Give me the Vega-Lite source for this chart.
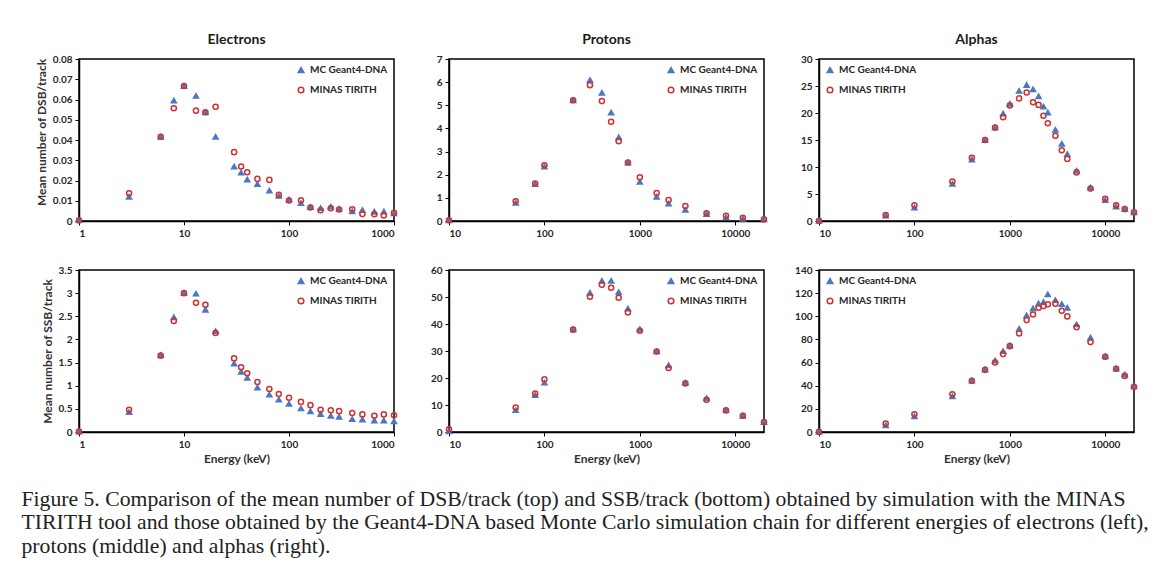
{
  "$schema": "https://vega.github.io/schema/vega-lite/v6.json",
  "background": "white",
  "padding": {"left": 21, "top": 32, "right": 8, "bottom": 10},
  "config": {
    "font": "Lato",
    "view": {"stroke": "black", "strokeWidth": 1.5},
    "axis": {
      "grid": false,
      "domainColor": "black",
      "domainWidth": 1.5,
      "tickColor": "black",
      "tickSize": 4,
      "labelFont": "Lato",
      "labelFontWeight": "bold",
      "labelFontSize": 10,
      "labelColor": "#262626",
      "labelPadding": 3,
      "titleFont": "Lato",
      "titleFontWeight": "bold",
      "titleFontSize": 12,
      "titleColor": "#333333"
    },
    "legend": {
      "title": null,
      "labelFont": "Lato",
      "labelFontSize": 10,
      "labelFontWeight": "bold",
      "labelColor": "#262626",
      "symbolStrokeWidth": 1.5,
      "symbolSize": 32,
      "rowPadding": 8,
      "offset": 6,
      "padding": 0
    },
    "title": {"font": "Lato", "fontSize": 14, "fontWeight": "bold", "color": "#1a1a1a", "offset": 7},
    "point": {"opacity": 1}
  },
  "title": {
    "text": [
      "Figure 5. Comparison of the mean number of DSB/track (top) and SSB/track (bottom) obtained by simulation with the MINAS",
      "TIRITH tool and those obtained by the Geant4-DNA based Monte Carlo simulation chain for different energies of electrons (left),",
      "protons (middle) and alphas (right)."
    ],
    "orient": "bottom",
    "anchor": "start",
    "font": "Liberation Serif",
    "fontSize": 21.7,
    "fontWeight": "normal",
    "color": "#222222",
    "lineHeight": 23.5,
    "offset": 24,
    "dx": -13
  },
  "datasets": {
    "e_dsb": [
      {"E": 1, "MC Geant4-DNA": 0.0004, "MINAS TIRITH": 0.0004},
      {"E": 3, "MC Geant4-DNA": 0.012, "MINAS TIRITH": 0.0137},
      {"E": 6, "MC Geant4-DNA": 0.0416, "MINAS TIRITH": 0.0416},
      {"E": 8, "MC Geant4-DNA": 0.0595, "MINAS TIRITH": 0.0557},
      {"E": 10, "MC Geant4-DNA": 0.0667, "MINAS TIRITH": 0.0667},
      {"E": 13, "MC Geant4-DNA": 0.0618, "MINAS TIRITH": 0.0545},
      {"E": 16, "MC Geant4-DNA": 0.0537, "MINAS TIRITH": 0.0537},
      {"E": 20, "MC Geant4-DNA": 0.0416, "MINAS TIRITH": 0.0564},
      {"E": 30, "MC Geant4-DNA": 0.0269, "MINAS TIRITH": 0.034},
      {"E": 35, "MC Geant4-DNA": 0.0239, "MINAS TIRITH": 0.0269},
      {"E": 40, "MC Geant4-DNA": 0.0205, "MINAS TIRITH": 0.0241},
      {"E": 50, "MC Geant4-DNA": 0.0182, "MINAS TIRITH": 0.0208},
      {"E": 65, "MC Geant4-DNA": 0.015, "MINAS TIRITH": 0.0203},
      {"E": 80, "MC Geant4-DNA": 0.0124, "MINAS TIRITH": 0.0129},
      {"E": 100, "MC Geant4-DNA": 0.0106, "MINAS TIRITH": 0.0101},
      {"E": 130, "MC Geant4-DNA": 0.0089, "MINAS TIRITH": 0.0102},
      {"E": 160, "MC Geant4-DNA": 0.0069, "MINAS TIRITH": 0.0067},
      {"E": 200, "MC Geant4-DNA": 0.0064, "MINAS TIRITH": 0.0053},
      {"E": 250, "MC Geant4-DNA": 0.0071, "MINAS TIRITH": 0.0063},
      {"E": 300, "MC Geant4-DNA": 0.006, "MINAS TIRITH": 0.0057},
      {"E": 400, "MC Geant4-DNA": 0.0048, "MINAS TIRITH": 0.0058},
      {"E": 500, "MC Geant4-DNA": 0.0054, "MINAS TIRITH": 0.0034},
      {"E": 650, "MC Geant4-DNA": 0.0046, "MINAS TIRITH": 0.0033},
      {"E": 800, "MC Geant4-DNA": 0.0047, "MINAS TIRITH": 0.0027},
      {"E": 1000, "MC Geant4-DNA": 0.0038, "MINAS TIRITH": 0.004}
    ],
    "e_ssb": [
      {"E": 1, "MC Geant4-DNA": 0.01, "MINAS TIRITH": 0.01},
      {"E": 3, "MC Geant4-DNA": 0.43, "MINAS TIRITH": 0.48},
      {"E": 6, "MC Geant4-DNA": 1.66, "MINAS TIRITH": 1.65},
      {"E": 8, "MC Geant4-DNA": 2.48, "MINAS TIRITH": 2.4},
      {"E": 10, "MC Geant4-DNA": 3.0, "MINAS TIRITH": 3.0},
      {"E": 13, "MC Geant4-DNA": 2.99, "MINAS TIRITH": 2.79},
      {"E": 16, "MC Geant4-DNA": 2.64, "MINAS TIRITH": 2.75},
      {"E": 20, "MC Geant4-DNA": 2.18, "MINAS TIRITH": 2.14},
      {"E": 30, "MC Geant4-DNA": 1.48, "MINAS TIRITH": 1.59},
      {"E": 35, "MC Geant4-DNA": 1.3, "MINAS TIRITH": 1.4},
      {"E": 40, "MC Geant4-DNA": 1.17, "MINAS TIRITH": 1.27},
      {"E": 50, "MC Geant4-DNA": 0.96, "MINAS TIRITH": 1.08},
      {"E": 65, "MC Geant4-DNA": 0.81, "MINAS TIRITH": 0.93},
      {"E": 80, "MC Geant4-DNA": 0.7, "MINAS TIRITH": 0.82},
      {"E": 100, "MC Geant4-DNA": 0.61, "MINAS TIRITH": 0.74},
      {"E": 130, "MC Geant4-DNA": 0.51, "MINAS TIRITH": 0.65},
      {"E": 160, "MC Geant4-DNA": 0.45, "MINAS TIRITH": 0.58},
      {"E": 200, "MC Geant4-DNA": 0.39, "MINAS TIRITH": 0.48},
      {"E": 250, "MC Geant4-DNA": 0.35, "MINAS TIRITH": 0.47},
      {"E": 300, "MC Geant4-DNA": 0.33, "MINAS TIRITH": 0.45},
      {"E": 400, "MC Geant4-DNA": 0.28, "MINAS TIRITH": 0.41},
      {"E": 500, "MC Geant4-DNA": 0.27, "MINAS TIRITH": 0.38},
      {"E": 650, "MC Geant4-DNA": 0.25, "MINAS TIRITH": 0.35},
      {"E": 800, "MC Geant4-DNA": 0.25, "MINAS TIRITH": 0.38},
      {"E": 1000, "MC Geant4-DNA": 0.23, "MINAS TIRITH": 0.36}
    ],
    "p_dsb": [
      {"E": 10, "MC Geant4-DNA": 0.03, "MINAS TIRITH": 0.03},
      {"E": 50, "MC Geant4-DNA": 0.79, "MINAS TIRITH": 0.85},
      {"E": 80, "MC Geant4-DNA": 1.6, "MINAS TIRITH": 1.62},
      {"E": 100, "MC Geant4-DNA": 2.35, "MINAS TIRITH": 2.41},
      {"E": 200, "MC Geant4-DNA": 5.22, "MINAS TIRITH": 5.22},
      {"E": 300, "MC Geant4-DNA": 6.09, "MINAS TIRITH": 5.87},
      {"E": 400, "MC Geant4-DNA": 5.54, "MINAS TIRITH": 5.18},
      {"E": 500, "MC Geant4-DNA": 4.69, "MINAS TIRITH": 4.29},
      {"E": 600, "MC Geant4-DNA": 3.62, "MINAS TIRITH": 3.45},
      {"E": 750, "MC Geant4-DNA": 2.53, "MINAS TIRITH": 2.53},
      {"E": 1000, "MC Geant4-DNA": 1.69, "MINAS TIRITH": 1.89},
      {"E": 1500, "MC Geant4-DNA": 1.05, "MINAS TIRITH": 1.21},
      {"E": 2000, "MC Geant4-DNA": 0.75, "MINAS TIRITH": 0.91},
      {"E": 3000, "MC Geant4-DNA": 0.48, "MINAS TIRITH": 0.65},
      {"E": 5000, "MC Geant4-DNA": 0.3, "MINAS TIRITH": 0.33},
      {"E": 8000, "MC Geant4-DNA": 0.16, "MINAS TIRITH": 0.23},
      {"E": 12000, "MC Geant4-DNA": 0.1, "MINAS TIRITH": 0.14},
      {"E": 20000, "MC Geant4-DNA": 0.07, "MINAS TIRITH": 0.07}
    ],
    "p_ssb": [
      {"E": 10, "MC Geant4-DNA": 0.3, "MINAS TIRITH": 1.0},
      {"E": 50, "MC Geant4-DNA": 8.1, "MINAS TIRITH": 9.1},
      {"E": 80, "MC Geant4-DNA": 13.7, "MINAS TIRITH": 14.2},
      {"E": 100, "MC Geant4-DNA": 18.3, "MINAS TIRITH": 19.5},
      {"E": 200, "MC Geant4-DNA": 38.0, "MINAS TIRITH": 37.9},
      {"E": 300, "MC Geant4-DNA": 51.6, "MINAS TIRITH": 50.1},
      {"E": 400, "MC Geant4-DNA": 56.0, "MINAS TIRITH": 54.5},
      {"E": 500, "MC Geant4-DNA": 56.0, "MINAS TIRITH": 53.4},
      {"E": 600, "MC Geant4-DNA": 51.8, "MINAS TIRITH": 49.7},
      {"E": 750, "MC Geant4-DNA": 45.7, "MINAS TIRITH": 44.3},
      {"E": 1000, "MC Geant4-DNA": 38.1, "MINAS TIRITH": 37.5},
      {"E": 1500, "MC Geant4-DNA": 29.9, "MINAS TIRITH": 29.8},
      {"E": 2000, "MC Geant4-DNA": 24.7, "MINAS TIRITH": 23.7},
      {"E": 3000, "MC Geant4-DNA": 18.3, "MINAS TIRITH": 18.0},
      {"E": 5000, "MC Geant4-DNA": 12.5, "MINAS TIRITH": 11.9},
      {"E": 8000, "MC Geant4-DNA": 8.1, "MINAS TIRITH": 8.0},
      {"E": 12000, "MC Geant4-DNA": 6.0, "MINAS TIRITH": 6.0},
      {"E": 20000, "MC Geant4-DNA": 3.7, "MINAS TIRITH": 3.7}
    ],
    "a_dsb": [
      {"E": 10, "MC Geant4-DNA": 0.05, "MINAS TIRITH": 0.05},
      {"E": 50, "MC Geant4-DNA": 1.0, "MINAS TIRITH": 1.1},
      {"E": 100, "MC Geant4-DNA": 2.5, "MINAS TIRITH": 2.9},
      {"E": 250, "MC Geant4-DNA": 6.9, "MINAS TIRITH": 7.3},
      {"E": 400, "MC Geant4-DNA": 11.4, "MINAS TIRITH": 11.7},
      {"E": 550, "MC Geant4-DNA": 15.0, "MINAS TIRITH": 15.0},
      {"E": 700, "MC Geant4-DNA": 17.3, "MINAS TIRITH": 17.3},
      {"E": 850, "MC Geant4-DNA": 19.9, "MINAS TIRITH": 19.2},
      {"E": 1000, "MC Geant4-DNA": 21.7, "MINAS TIRITH": 21.4},
      {"E": 1250, "MC Geant4-DNA": 24.1, "MINAS TIRITH": 22.7},
      {"E": 1500, "MC Geant4-DNA": 25.2, "MINAS TIRITH": 23.8},
      {"E": 1750, "MC Geant4-DNA": 24.4, "MINAS TIRITH": 22.0},
      {"E": 2000, "MC Geant4-DNA": 23.1, "MINAS TIRITH": 21.5},
      {"E": 2250, "MC Geant4-DNA": 21.2, "MINAS TIRITH": 19.5},
      {"E": 2500, "MC Geant4-DNA": 20.1, "MINAS TIRITH": 18.1},
      {"E": 3000, "MC Geant4-DNA": 16.9, "MINAS TIRITH": 15.8},
      {"E": 3500, "MC Geant4-DNA": 14.3, "MINAS TIRITH": 13.1},
      {"E": 4000, "MC Geant4-DNA": 12.4, "MINAS TIRITH": 11.5},
      {"E": 5000, "MC Geant4-DNA": 9.3, "MINAS TIRITH": 9.0},
      {"E": 7000, "MC Geant4-DNA": 6.2, "MINAS TIRITH": 6.0},
      {"E": 10000, "MC Geant4-DNA": 3.9, "MINAS TIRITH": 4.1},
      {"E": 13000, "MC Geant4-DNA": 2.7, "MINAS TIRITH": 2.9},
      {"E": 16000, "MC Geant4-DNA": 2.2, "MINAS TIRITH": 2.2},
      {"E": 20000, "MC Geant4-DNA": 1.6, "MINAS TIRITH": 1.6}
    ],
    "a_ssb": [
      {"E": 10, "MC Geant4-DNA": 0.2, "MINAS TIRITH": 0.2},
      {"E": 50, "MC Geant4-DNA": 5.8, "MINAS TIRITH": 7.2},
      {"E": 100, "MC Geant4-DNA": 13.6, "MINAS TIRITH": 15.3},
      {"E": 250, "MC Geant4-DNA": 30.9, "MINAS TIRITH": 32.6},
      {"E": 400, "MC Geant4-DNA": 44.5, "MINAS TIRITH": 44.2},
      {"E": 550, "MC Geant4-DNA": 54.0, "MINAS TIRITH": 53.7},
      {"E": 700, "MC Geant4-DNA": 61.8, "MINAS TIRITH": 60.0},
      {"E": 850, "MC Geant4-DNA": 69.9, "MINAS TIRITH": 67.3},
      {"E": 1000, "MC Geant4-DNA": 74.8, "MINAS TIRITH": 74.2},
      {"E": 1250, "MC Geant4-DNA": 89.2, "MINAS TIRITH": 85.2},
      {"E": 1500, "MC Geant4-DNA": 100.8, "MINAS TIRITH": 96.7},
      {"E": 1750, "MC Geant4-DNA": 106.8, "MINAS TIRITH": 101.6},
      {"E": 2000, "MC Geant4-DNA": 111.1, "MINAS TIRITH": 107.4},
      {"E": 2250, "MC Geant4-DNA": 112.3, "MINAS TIRITH": 108.8},
      {"E": 2500, "MC Geant4-DNA": 118.9, "MINAS TIRITH": 110.3},
      {"E": 3000, "MC Geant4-DNA": 114.0, "MINAS TIRITH": 110.9},
      {"E": 3500, "MC Geant4-DNA": 110.6, "MINAS TIRITH": 104.8},
      {"E": 4000, "MC Geant4-DNA": 107.4, "MINAS TIRITH": 99.9},
      {"E": 5000, "MC Geant4-DNA": 93.0, "MINAS TIRITH": 90.6},
      {"E": 7000, "MC Geant4-DNA": 81.7, "MINAS TIRITH": 77.7},
      {"E": 10000, "MC Geant4-DNA": 65.5, "MINAS TIRITH": 65.0},
      {"E": 13000, "MC Geant4-DNA": 54.9, "MINAS TIRITH": 54.6},
      {"E": 16000, "MC Geant4-DNA": 49.7, "MINAS TIRITH": 48.5},
      {"E": 20000, "MC Geant4-DNA": 39.5, "MINAS TIRITH": 39.0}
    ]
  },
  "columns": 3,
  "bounds": "flush",
  "spacing": {"column": 55, "row": 49},
  "resolve": {"scale": {"fill": "independent", "stroke": "independent", "shape": "independent"}},
  "concat": [
    {
      "width": 315, "height": 162,
      "title": "Electrons",
      "data": {"name": "e_dsb"},
      "transform": [{"fold": ["MC Geant4-DNA", "MINAS TIRITH"], "as": ["series", "v"]}],
      "mark": {"type": "point", "size": 26, "strokeWidth": 1.5},
      "encoding": {
        "x": {"field": "E", "type": "quantitative", "scale": {"type": "log", "domain": [1, 1000]}, "axis": {"values": [1, 10, 100, 1000], "format": "d", "title": null}},
        "y": {"field": "v", "type": "quantitative", "scale": {"domain": [0, 0.08], "nice": false}, "axis": {"values": [0, 0.01, 0.02, 0.03, 0.04, 0.05, 0.06, 0.07, 0.08], "format": "~r", "title": "Mean number of DSB/track", "titleY": 73}},
        "shape": {"field": "series", "type": "nominal", "scale": {"domain": ["MC Geant4-DNA", "MINAS TIRITH"], "range": ["triangle-up", "circle"]}, "legend": {"orient": "top-right"}},
        "fill": {"field": "series", "type": "nominal", "scale": {"domain": ["MC Geant4-DNA", "MINAS TIRITH"], "range": ["#4a78c2", "transparent"]}, "legend": {"orient": "top-right"}},
        "stroke": {"field": "series", "type": "nominal", "scale": {"domain": ["MC Geant4-DNA", "MINAS TIRITH"], "range": ["#4a78c2", "#cc3333"]}, "legend": {"orient": "top-right"}}
      }
    },
    {
      "width": 315, "height": 162,
      "title": "Protons",
      "data": {"name": "p_dsb"},
      "transform": [{"fold": ["MC Geant4-DNA", "MINAS TIRITH"], "as": ["series", "v"]}],
      "mark": {"type": "point", "size": 26, "strokeWidth": 1.5},
      "encoding": {
        "x": {"field": "E", "type": "quantitative", "scale": {"type": "log", "domain": [10, 20000]}, "axis": {"values": [10, 100, 1000, 10000], "format": "d", "title": null}},
        "y": {"field": "v", "type": "quantitative", "scale": {"domain": [0, 7], "nice": false}, "axis": {"values": [0, 1, 2, 3, 4, 5, 6, 7], "format": "~r", "title": null}},
        "shape": {"field": "series", "type": "nominal", "scale": {"domain": ["MC Geant4-DNA", "MINAS TIRITH"], "range": ["triangle-up", "circle"]}, "legend": {"orient": "top-right"}},
        "fill": {"field": "series", "type": "nominal", "scale": {"domain": ["MC Geant4-DNA", "MINAS TIRITH"], "range": ["#4a78c2", "transparent"]}, "legend": {"orient": "top-right"}},
        "stroke": {"field": "series", "type": "nominal", "scale": {"domain": ["MC Geant4-DNA", "MINAS TIRITH"], "range": ["#4a78c2", "#cc3333"]}, "legend": {"orient": "top-right"}}
      }
    },
    {
      "width": 315, "height": 162,
      "title": "Alphas",
      "data": {"name": "a_dsb"},
      "transform": [{"fold": ["MC Geant4-DNA", "MINAS TIRITH"], "as": ["series", "v"]}],
      "mark": {"type": "point", "size": 26, "strokeWidth": 1.5},
      "encoding": {
        "x": {"field": "E", "type": "quantitative", "scale": {"type": "log", "domain": [10, 20000]}, "axis": {"values": [10, 100, 1000, 10000], "format": "d", "title": null}},
        "y": {"field": "v", "type": "quantitative", "scale": {"domain": [0, 30], "nice": false}, "axis": {"values": [0, 5, 10, 15, 20, 25, 30], "format": "~r", "title": null}},
        "shape": {"field": "series", "type": "nominal", "scale": {"domain": ["MC Geant4-DNA", "MINAS TIRITH"], "range": ["triangle-up", "circle"]}, "legend": {"orient": "top-left"}},
        "fill": {"field": "series", "type": "nominal", "scale": {"domain": ["MC Geant4-DNA", "MINAS TIRITH"], "range": ["#4a78c2", "transparent"]}, "legend": {"orient": "top-left"}},
        "stroke": {"field": "series", "type": "nominal", "scale": {"domain": ["MC Geant4-DNA", "MINAS TIRITH"], "range": ["#4a78c2", "#cc3333"]}, "legend": {"orient": "top-left"}}
      }
    },
    {
      "width": 315, "height": 162,
      "data": {"name": "e_ssb"},
      "transform": [{"fold": ["MC Geant4-DNA", "MINAS TIRITH"], "as": ["series", "v"]}],
      "mark": {"type": "point", "size": 26, "strokeWidth": 1.5},
      "encoding": {
        "x": {"field": "E", "type": "quantitative", "scale": {"type": "log", "domain": [1, 1000]}, "axis": {"values": [1, 10, 100, 1000], "format": "d", "title": "Energy (keV)"}},
        "y": {"field": "v", "type": "quantitative", "scale": {"domain": [0, 3.5], "nice": false}, "axis": {"values": [0, 0.5, 1, 1.5, 2, 2.5, 3, 3.5], "format": "~r", "title": "Mean number of SSB/track"}},
        "shape": {"field": "series", "type": "nominal", "scale": {"domain": ["MC Geant4-DNA", "MINAS TIRITH"], "range": ["triangle-up", "circle"]}, "legend": {"orient": "top-right"}},
        "fill": {"field": "series", "type": "nominal", "scale": {"domain": ["MC Geant4-DNA", "MINAS TIRITH"], "range": ["#4a78c2", "transparent"]}, "legend": {"orient": "top-right"}},
        "stroke": {"field": "series", "type": "nominal", "scale": {"domain": ["MC Geant4-DNA", "MINAS TIRITH"], "range": ["#4a78c2", "#cc3333"]}, "legend": {"orient": "top-right"}}
      }
    },
    {
      "width": 315, "height": 162,
      "data": {"name": "p_ssb"},
      "transform": [{"fold": ["MC Geant4-DNA", "MINAS TIRITH"], "as": ["series", "v"]}],
      "mark": {"type": "point", "size": 26, "strokeWidth": 1.5},
      "encoding": {
        "x": {"field": "E", "type": "quantitative", "scale": {"type": "log", "domain": [10, 20000]}, "axis": {"values": [10, 100, 1000, 10000], "format": "d", "title": "Energy (keV)"}},
        "y": {"field": "v", "type": "quantitative", "scale": {"domain": [0, 60], "nice": false}, "axis": {"values": [0, 10, 20, 30, 40, 50, 60], "format": "~r", "title": null}},
        "shape": {"field": "series", "type": "nominal", "scale": {"domain": ["MC Geant4-DNA", "MINAS TIRITH"], "range": ["triangle-up", "circle"]}, "legend": {"orient": "top-right"}},
        "fill": {"field": "series", "type": "nominal", "scale": {"domain": ["MC Geant4-DNA", "MINAS TIRITH"], "range": ["#4a78c2", "transparent"]}, "legend": {"orient": "top-right"}},
        "stroke": {"field": "series", "type": "nominal", "scale": {"domain": ["MC Geant4-DNA", "MINAS TIRITH"], "range": ["#4a78c2", "#cc3333"]}, "legend": {"orient": "top-right"}}
      }
    },
    {
      "width": 315, "height": 162,
      "data": {"name": "a_ssb"},
      "transform": [{"fold": ["MC Geant4-DNA", "MINAS TIRITH"], "as": ["series", "v"]}],
      "mark": {"type": "point", "size": 26, "strokeWidth": 1.5},
      "encoding": {
        "x": {"field": "E", "type": "quantitative", "scale": {"type": "log", "domain": [10, 20000]}, "axis": {"values": [10, 100, 1000, 10000], "format": "d", "title": "Energy (keV)"}},
        "y": {"field": "v", "type": "quantitative", "scale": {"domain": [0, 140], "nice": false}, "axis": {"values": [0, 20, 40, 60, 80, 100, 120, 140], "format": "~r", "title": null}},
        "shape": {"field": "series", "type": "nominal", "scale": {"domain": ["MC Geant4-DNA", "MINAS TIRITH"], "range": ["triangle-up", "circle"]}, "legend": {"orient": "top-left"}},
        "fill": {"field": "series", "type": "nominal", "scale": {"domain": ["MC Geant4-DNA", "MINAS TIRITH"], "range": ["#4a78c2", "transparent"]}, "legend": {"orient": "top-left"}},
        "stroke": {"field": "series", "type": "nominal", "scale": {"domain": ["MC Geant4-DNA", "MINAS TIRITH"], "range": ["#4a78c2", "#cc3333"]}, "legend": {"orient": "top-left"}}
      }
    }
  ]
}
